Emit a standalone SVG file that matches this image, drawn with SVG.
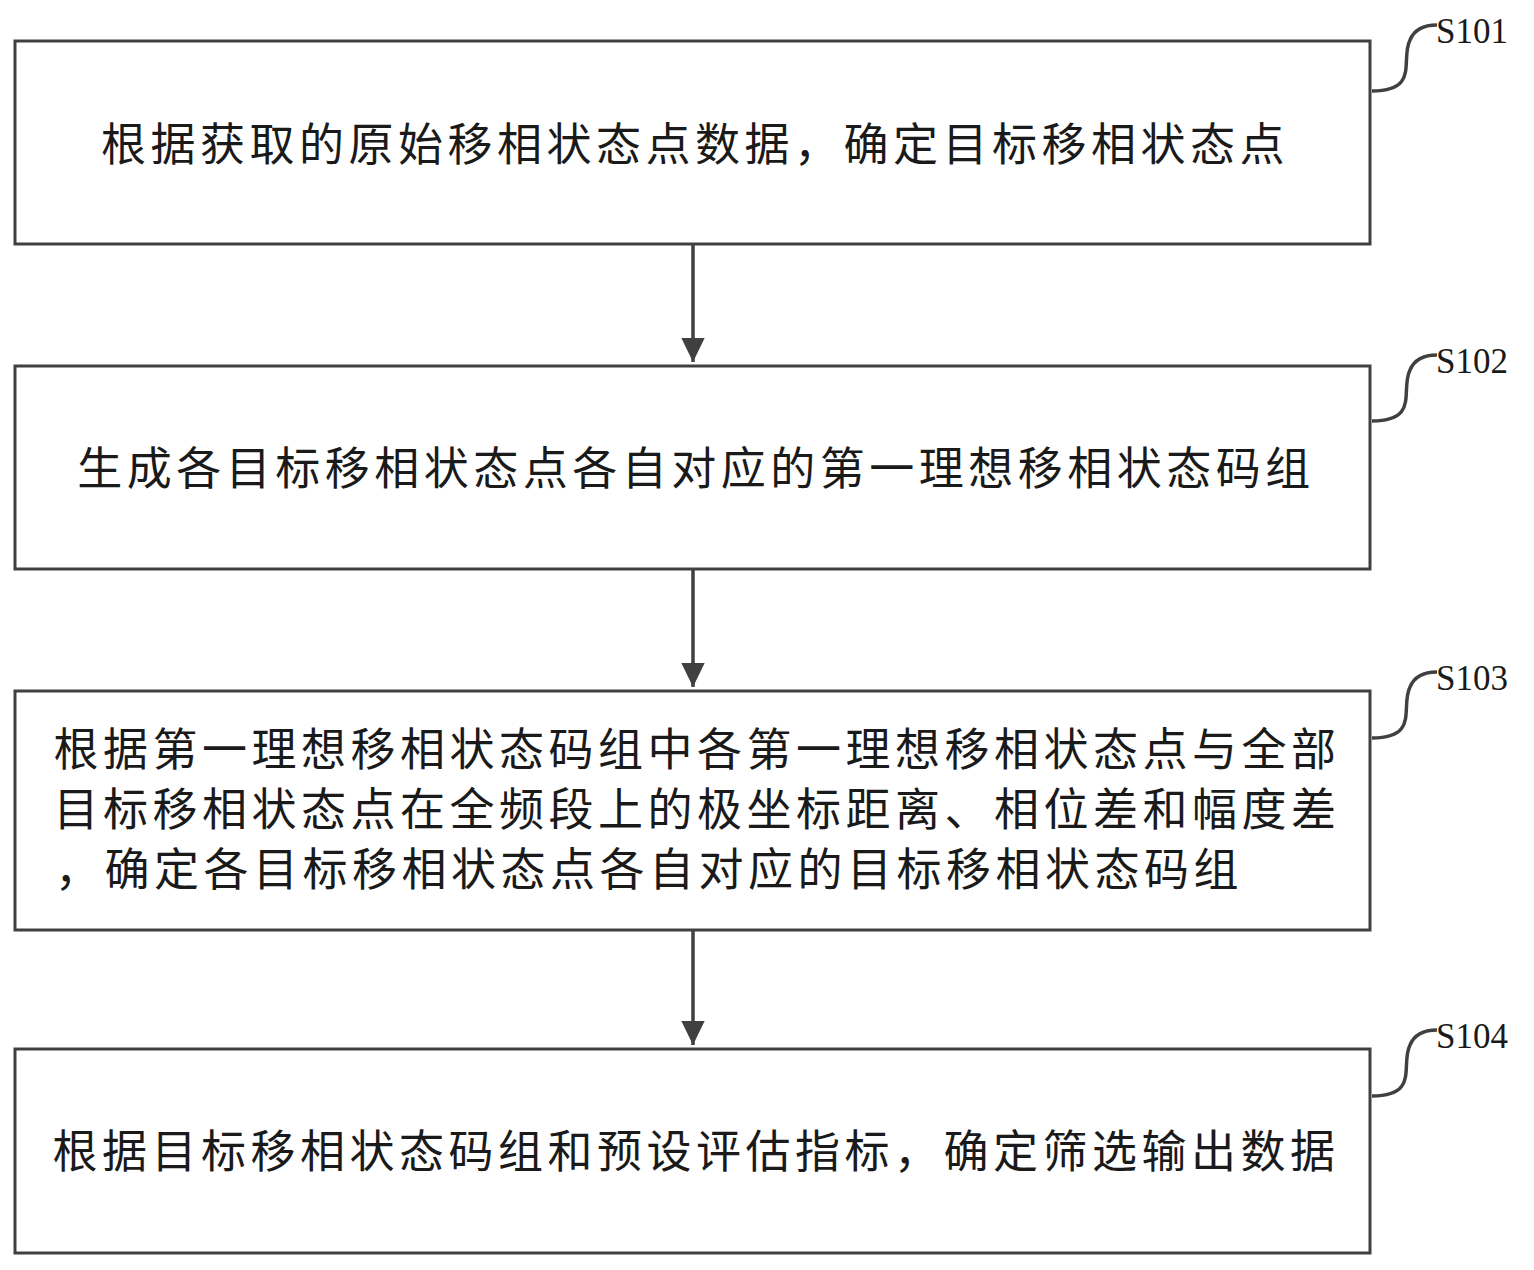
<svg xmlns="http://www.w3.org/2000/svg" width="1534" height="1270" viewBox="0 0 1534 1270">
<style>
.b{fill:#fff;stroke:#404040;stroke-width:3}
.t{font-family:"Noto Sans CJK SC",sans-serif;font-size:45px;fill:#1a1a1a;letter-spacing:4.5px}
.l{font-family:"Liberation Serif",serif;font-size:35px;fill:#1a1a1a}
.c{fill:none;stroke:#404040;stroke-width:3.5}
</style>
<defs><marker id="a" markerWidth="8" markerHeight="8" refX="7" refY="4" orient="auto" markerUnits="strokeWidth"><path d="M0,0.6L7,4L0,7.4Z" fill="#404040"/></marker></defs>
<rect width="1534" height="1270" fill="#fff"/>
<g id="connectors">
<line class="c" x1="693" y1="244" x2="693" y2="362" marker-end="url(#a)"/>
<line class="c" x1="693" y1="569" x2="693" y2="687" marker-end="url(#a)"/>
<line class="c" x1="693" y1="930" x2="693" y2="1045" marker-end="url(#a)"/>
<path class="c" d="M1372,91 C1420,91 1400,60 1410,40 C1415,28 1425,25 1437,25"/>
<path class="c" d="M1372,421 C1420,421 1400,390 1410,370 C1415,358 1425,355 1437,355"/>
<path class="c" d="M1372,738 C1420,738 1400,707 1410,687 C1415,675 1425,672 1437,672"/>
<path class="c" d="M1372,1096 C1420,1096 1400,1065 1410,1045 C1415,1033 1425,1030 1437,1030"/>
</g>
<g id="S101"><rect class="b" x="15" y="41" width="1355" height="203"/><text class="t" x="695" y="161" text-anchor="middle">根据获取的原始移相状态点数据，确定目标移相状态点</text><text class="l" x="1436" y="43">S101</text></g>
<g id="S102"><rect class="b" x="15" y="366" width="1355" height="203"/><text class="t" x="696" y="485" text-anchor="middle">生成各目标移相状态点各自对应的第一理想移相状态码组</text><text class="l" x="1436" y="373">S102</text></g>
<g id="S103"><rect class="b" x="15" y="691" width="1355" height="239"/>
<text class="t" x="697" y="766" text-anchor="middle">根据第一理想移相状态码组中各第一理想移相状态点与全部</text>
<text class="t" x="697" y="826" text-anchor="middle">目标移相状态点在全频段上的极坐标距离、相位差和幅度差</text>
<text class="t" x="55" y="886">，确定各目标移相状态点各自对应的目标移相状态码组</text>
<text class="l" x="1436" y="690">S103</text></g>
<g id="S104"><rect class="b" x="15" y="1049" width="1355" height="204"/><text class="t" x="696" y="1168" text-anchor="middle">根据目标移相状态码组和预设评估指标，确定筛选输出数据</text><text class="l" x="1436" y="1048">S104</text></g>
</svg>
